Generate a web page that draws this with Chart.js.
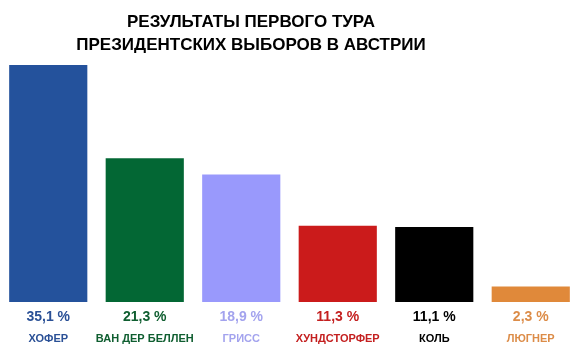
<!DOCTYPE html>
<html>
<head>
<meta charset="utf-8">
<script src="https://cdn.jsdelivr.net/npm/chart.js@4/dist/chart.umd.min.js"></script>
<style>
html,body{margin:0;padding:0;background:#fff;}
#wrap{width:579px;height:353px;position:relative;}
</style>
</head>
<body>
<div id="wrap"><canvas id="c"></canvas></div>
<script>
const titleLines = ["РЕЗУЛЬТАТЫ ПЕРВОГО ТУРА", "ПРЕЗИДЕНТСКИХ ВЫБОРОВ В АВСТРИИ"];
const candidates = ["ХОФЕР", "ВАН ДЕР БЕЛЛЕН", "ГРИСС", "ХУНДСТОРФЕР", "КОЛЬ", "ЛЮГНЕР"];
const results = [35.1, 21.3, 18.9, 11.3, 11.1, 2.3];
const barColors = ["#24529c", "#036734", "#9999fc", "#cb1b1b", "#000000", "#e0893a"];
const textColors = ["#2a5096", "#0f5e30", "#a3a3ee", "#c42020", "#000000", "#dc8c48"];

const labelPlugin = {
  id: 'labels',
  afterDraw(chart) {
    const ctx = chart.ctx;
    const xs = chart.scales.x;
    ctx.save();
    ctx.textAlign = 'center';
    ctx.textBaseline = 'middle';
    // title
    ctx.fillStyle = '#000';
    ctx.font = 'bold 17px "Liberation Sans", Arial, sans-serif';
    ctx.fillText(titleLines[0], 251, 22);
    ctx.fillText(titleLines[1], 251, 45);
    results.forEach((v, i) => {
      const x = xs.getPixelForValue(i);
      ctx.fillStyle = textColors[i];
      ctx.font = 'bold 14px "Liberation Sans", Arial, sans-serif';
      ctx.fillText(v.toFixed(1).replace('.', ',') + ' %', x, 317);
      ctx.font = 'bold 11px "Liberation Sans", Arial, sans-serif';
      ctx.fillText(candidates[i], x, 339);
    });
    ctx.restore();
  }
};

new Chart(document.getElementById('c'), {
  type: 'bar',
  data: {
    labels: candidates,
    datasets: [{
      data: results,
      backgroundColor: barColors,
      borderWidth: 0,
      barPercentage: 0.9,
      categoryPercentage: 0.9
    }]
  },
  options: {
    responsive: true,
    maintainAspectRatio: false,
    animation: false,
    layout: { padding: { top: 65, bottom: 51, left: 0, right: 0 } },
    plugins: { legend: { display: false }, title: { display: false }, tooltip: { enabled: false } },
    scales: {
      x: { display: false, grid: { display: false } },
      y: { display: false, min: 0, max: 35.1, grid: { display: false } }
    }
  },
  plugins: [labelPlugin]
});
</script>
</body>
</html>
